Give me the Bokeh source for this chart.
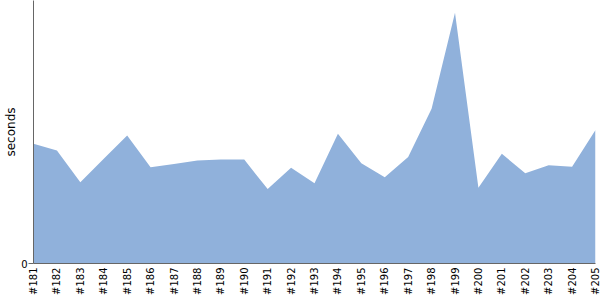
from bokeh.plotting import figure
from bokeh.models import Range1d, FixedTicker
from bokeh.embed import file_html
from bokeh.resources import INLINE
import math

builds = ["#181", "#182", "#183", "#184", "#185", "#186", "#187", "#188", "#189",
          "#190", "#191", "#192", "#193", "#194", "#195", "#196", "#197", "#198",
          "#199", "#200", "#201", "#202", "#203", "#204", "#205"]
seconds = [45.5, 43.0, 30.9, 39.8, 48.7, 36.6, 37.8, 39.2, 39.5,
           39.5, 28.3, 36.4, 30.5, 49.3, 38.1, 32.8, 40.5, 58.8,
           95.3, 28.8, 41.7, 34.3, 37.4, 36.8, 50.8]
y_max = 100.0

xs = list(range(len(builds)))

p = figure(width=600, height=300, output_backend="svg", toolbar_location=None,
           x_range=Range1d(0, len(builds) - 1), y_range=Range1d(0, y_max),
           min_border_left=33, min_border_right=5, min_border_top=0, min_border_bottom=37)
p.frame_width = 562
p.frame_height = 263

p.varea(x=xs, y1=[0] * len(xs), y2=seconds, fill_color="#90b1db", fill_alpha=1.0)

p.xgrid.visible = False
p.ygrid.visible = False
p.outline_line_color = None

p.xaxis.ticker = FixedTicker(ticks=xs)
p.xaxis.major_label_overrides = {i: b for i, b in enumerate(builds)}
p.xaxis.major_label_orientation = math.pi / 2
p.xaxis.major_tick_out = 0
p.xaxis.major_tick_in = 0
p.xaxis.minor_tick_out = 0
p.xaxis.minor_tick_in = 0
p.xaxis.major_label_standoff = 4
p.xaxis.major_label_text_font = "DejaVu Sans"
p.xaxis.major_label_text_font_size = "10px"
p.xaxis.major_label_text_color = "#000000"
p.xaxis.axis_line_color = "#666666"

p.yaxis.ticker = FixedTicker(ticks=[0])
p.yaxis.major_tick_out = 5
p.yaxis.major_tick_in = 0
p.yaxis.minor_tick_out = 0
p.yaxis.minor_tick_in = 0
p.yaxis.major_tick_line_color = "#666666"
p.yaxis.major_label_standoff = 1
p.yaxis.major_label_text_font = "DejaVu Sans"
p.yaxis.major_label_text_font_size = "10px"
p.yaxis.major_label_text_color = "#000000"
p.yaxis.axis_line_color = "#666666"
p.yaxis.axis_label = "seconds"
p.yaxis.axis_label_text_font = "DejaVu Sans"
p.yaxis.axis_label_text_font_size = "12px"
p.yaxis.axis_label_text_font_style = "normal"
p.yaxis.axis_label_text_color = "#000000"
p.yaxis.axis_label_standoff = 0

open("out.html", "w").write(file_html(p, INLINE))
